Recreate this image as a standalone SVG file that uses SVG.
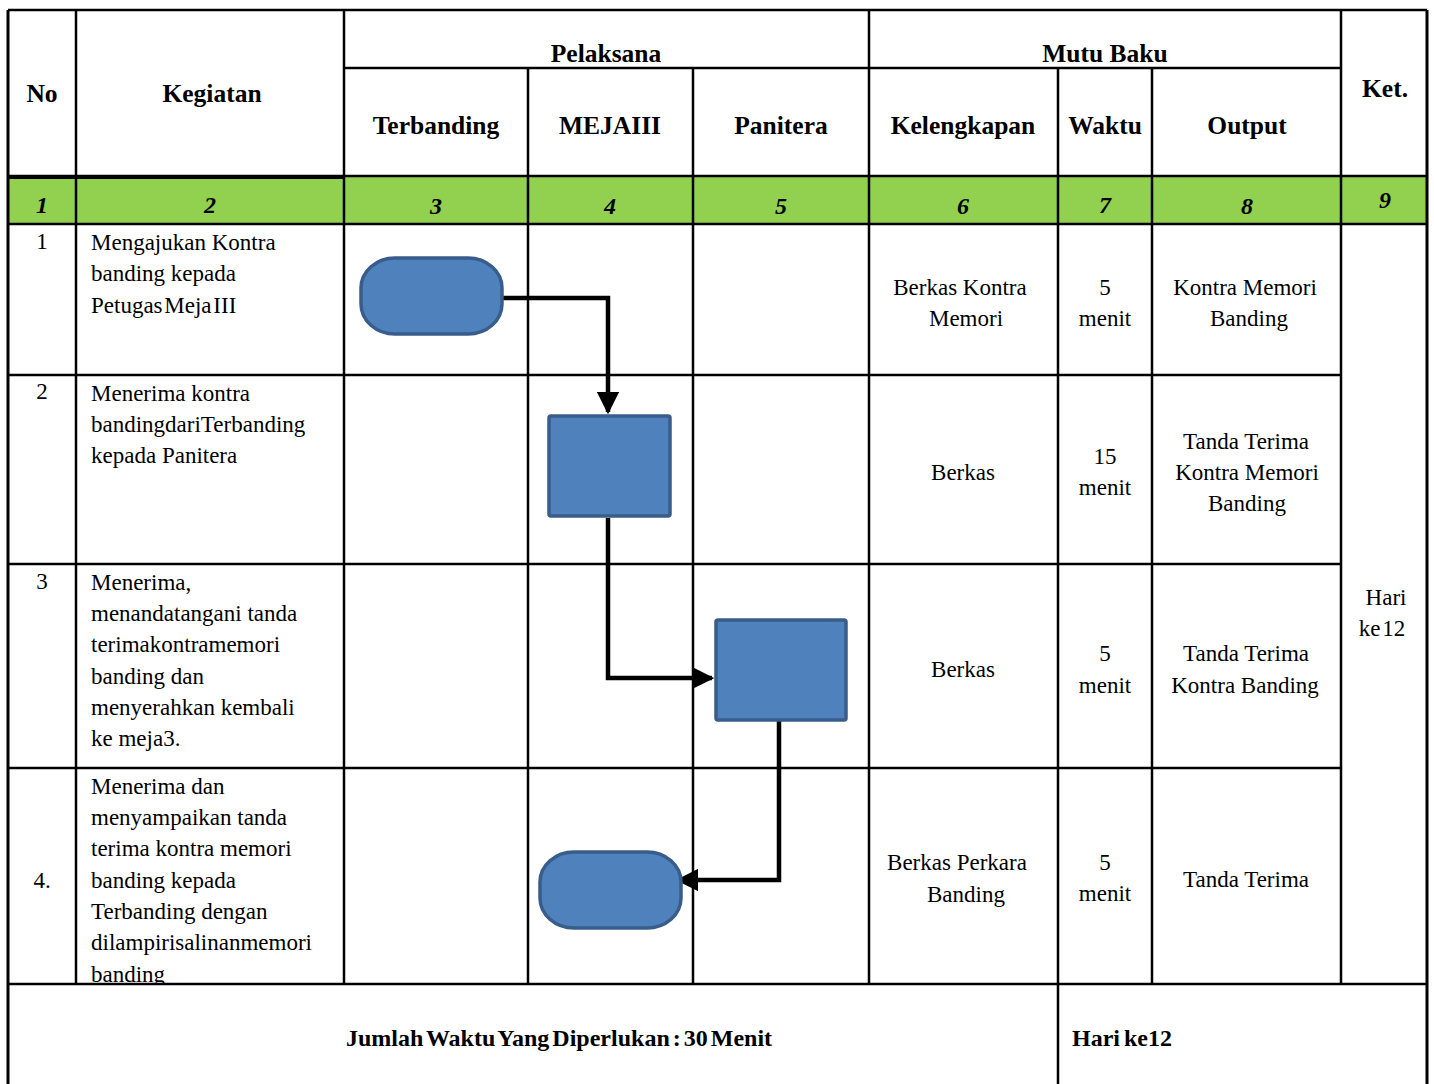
<svg xmlns="http://www.w3.org/2000/svg" width="1434" height="1084" viewBox="0 0 1434 1084">
<style>
text{font-family:"Liberation Serif","DejaVu Serif",serif;fill:#000}
.h{font-weight:bold;font-size:25.5px;text-anchor:middle}
.n{font-weight:bold;font-style:italic;font-size:24px;text-anchor:middle}
.t{font-size:23px}
.c{font-size:23px;text-anchor:middle}
.grid line{stroke:#000;stroke-width:2.5}
.shape{fill:#4f81bd;stroke:#385d8a;stroke-width:3.5}
.conn path{fill:none;stroke:#000;stroke-width:4.5}
</style>
<defs>
<marker id="ah" markerWidth="5" markerHeight="5" refX="4.5" refY="2.5" orient="auto" markerUnits="strokeWidth">
<path d="M0,0 L5,2.5 L0,5 z" fill="#000"/>
</marker>
<clipPath id="cellclip"><rect x="76" y="768" width="268" height="215"/></clipPath>
</defs>
<rect x="0" y="0" width="1434" height="1084" fill="#fff"/>
<rect x="8" y="177" width="1419" height="47" fill="#92d050"/>

<g class="grid">
<line x1="8" y1="10" x2="1427" y2="10" stroke-width="3"/>
<line x1="344" y1="68" x2="1341" y2="68"/>
<line x1="8" y1="176" x2="1427" y2="176"/>
<line x1="8" y1="177" x2="344" y2="177" style="stroke-width:4"/>
<line x1="8" y1="224" x2="1427" y2="224"/>
<line x1="8" y1="375" x2="1341" y2="375"/>
<line x1="8" y1="564" x2="1341" y2="564"/>
<line x1="8" y1="768" x2="1341" y2="768"/>
<line x1="8" y1="984" x2="1427" y2="984"/>
<line x1="8" y1="10" x2="8" y2="1084" style="stroke-width:3"/>
<line x1="76" y1="10" x2="76" y2="984"/>
<line x1="344" y1="10" x2="344" y2="984"/>
<line x1="528" y1="68" x2="528" y2="984"/>
<line x1="693" y1="68" x2="693" y2="984"/>
<line x1="869" y1="10" x2="869" y2="984"/>
<line x1="1058" y1="68" x2="1058" y2="1084"/>
<line x1="1152" y1="68" x2="1152" y2="984"/>
<line x1="1341" y1="10" x2="1341" y2="984"/>
<line x1="1427" y1="10" x2="1427" y2="1084" style="stroke-width:3"/>
</g>

<g id="header">
<text class="h" x="42" y="102">No</text>
<text class="h" x="212" y="102">Kegiatan</text>
<text class="h" x="606" y="62">Pelaksana</text>
<text class="h" x="1105" y="62">Mutu Baku</text>
<text class="h" x="436" y="134">Terbanding</text>
<text class="h" x="610" y="134">MEJAIII</text>
<text class="h" x="781" y="134">Panitera</text>
<text class="h" x="963" y="134">Kelengkapan</text>
<text class="h" x="1105" y="134">Waktu</text>
<text class="h" x="1247" y="134">Output</text>
<text class="h" x="1385" y="97">Ket.</text>
</g>

<g id="numbers">
<text class="n" x="42" y="213">1</text>
<text class="n" x="210" y="213">2</text>
<text class="n" x="436" y="214">3</text>
<text class="n" x="610" y="214">4</text>
<text class="n" x="781" y="214">5</text>
<text class="n" x="963" y="214">6</text>
<text class="n" x="1105" y="213">7</text>
<text class="n" x="1247" y="214">8</text>
<text class="n" x="1385" y="208">9</text>
</g>

<g id="row1">
<text class="c" x="42" y="249">1</text>
<text class="t" x="91" y="250">Mengajukan Kontra</text>
<text class="t" x="91" y="281">banding kepada</text>
<text class="t" x="91" y="313" word-spacing="-4">Petugas Meja III</text>
<text class="c" x="960" y="295">Berkas Kontra</text>
<text class="c" x="966" y="326">Memori</text>
<text class="c" x="1105" y="295">5</text>
<text class="c" x="1105" y="326">menit</text>
<text class="c" x="1245" y="295">Kontra Memori</text>
<text class="c" x="1249" y="326">Banding</text>
</g>

<g id="row2">
<text class="c" x="42" y="399">2</text>
<text class="t" x="91" y="401">Menerima kontra</text>
<text class="t" x="91" y="432">bandingdariTerbanding</text>
<text class="t" x="91" y="463">kepada  Panitera</text>
<text class="c" x="963" y="480">Berkas</text>
<text class="c" x="1105" y="464">15</text>
<text class="c" x="1105" y="495">menit</text>
<text class="c" x="1246" y="449">Tanda Terima</text>
<text class="c" x="1247" y="480">Kontra Memori</text>
<text class="c" x="1247" y="511">Banding</text>
</g>

<g id="row3">
<text class="c" x="42" y="589">3</text>
<text class="t" x="91" y="590">Menerima,</text>
<text class="t" x="91" y="621">menandatangani tanda</text>
<text class="t" x="91" y="652">terimakontramemori</text>
<text class="t" x="91" y="684">banding dan</text>
<text class="t" x="91" y="715">menyerahkan kembali</text>
<text class="t" x="91" y="746">ke meja3.</text>
<text class="c" x="963" y="677">Berkas</text>
<text class="c" x="1105" y="661">5</text>
<text class="c" x="1105" y="693">menit</text>
<text class="c" x="1246" y="661">Tanda Terima</text>
<text class="c" x="1245" y="693">Kontra  Banding</text>
</g>

<g id="row4">
<text class="c" x="42" y="888">4.</text>
<g clip-path="url(#cellclip)">
<text class="t" x="91" y="794">Menerima dan</text>
<text class="t" x="91" y="825">menyampaikan tanda</text>
<text class="t" x="91" y="856">terima kontra memori</text>
<text class="t" x="91" y="888">banding kepada</text>
<text class="t" x="91" y="919">Terbanding dengan</text>
<text class="t" x="91" y="950">dilampirisalinanmemori</text>
<text class="t" x="91" y="982">banding</text>
</g>
<text class="c" x="957" y="870">Berkas Perkara</text>
<text class="c" x="966" y="902">Banding</text>
<text class="c" x="1105" y="870">5</text>
<text class="c" x="1105" y="901">menit</text>
<text class="c" x="1246" y="887">Tanda Terima</text>
</g>

<g id="ket">
<text class="c" x="1386" y="605">Hari</text>
<text class="c" x="1382" y="636" word-spacing="-4">ke 12</text>
</g>

<g id="footer">
<text x="559" y="1046" style="font-weight:bold;font-size:24px;text-anchor:middle" word-spacing="-3">Jumlah Waktu Yang Diperlukan : 30 Menit</text>
<text x="1072" y="1046" style="font-weight:bold;font-size:24px" word-spacing="-2">Hari ke12</text>
</g>

<g id="connectors" class="conn">
<path d="M502,298 H608 V412" marker-end="url(#ah)"/>
<path d="M608,518 V678 H712" marker-end="url(#ah)"/>
<path d="M779,721 V880 H678" marker-end="url(#ah)"/>
</g>

<g id="node1"><rect class="shape" x="361" y="258" width="141" height="76" rx="34" ry="30"/></g>
<g id="node2"><rect class="shape" x="549" y="416" width="121" height="100" rx="2"/></g>
<g id="node3"><rect class="shape" x="716" y="620" width="130" height="100" rx="2"/></g>
<g id="node4"><rect class="shape" x="540" y="852" width="141" height="76" rx="34" ry="30"/></g>
</svg>
